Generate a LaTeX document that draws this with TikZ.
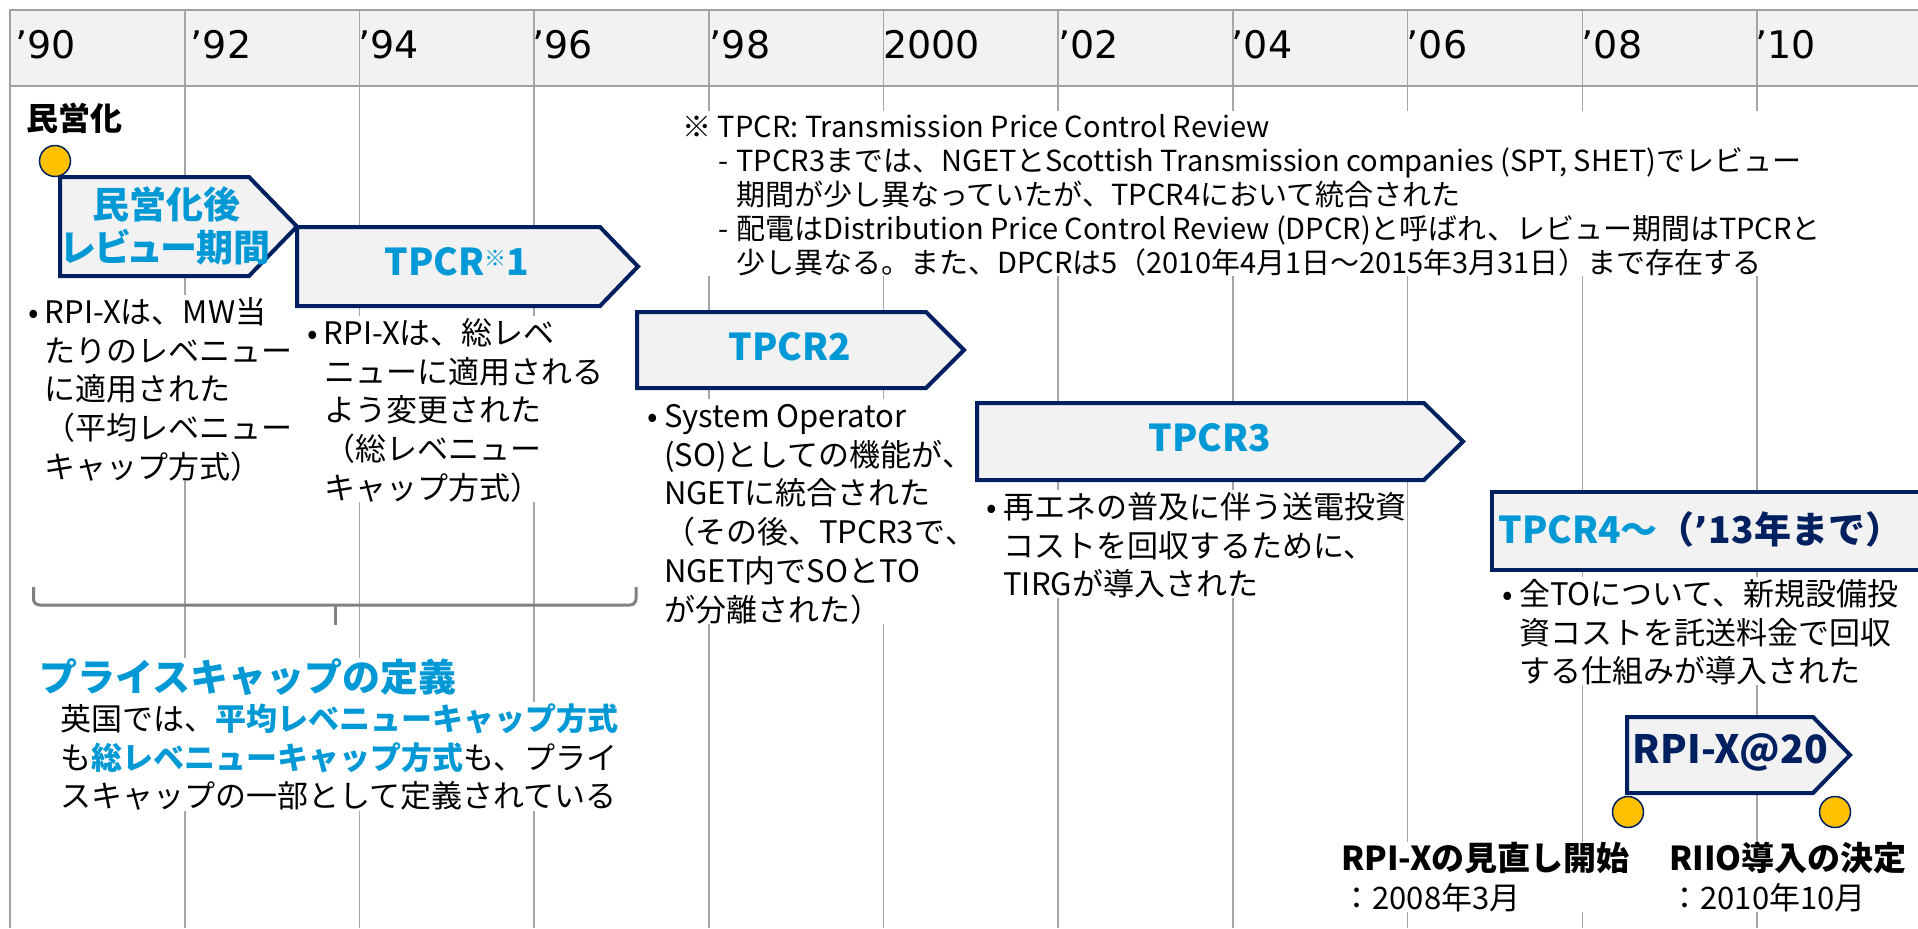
\documentclass[tikz,border=0pt]{standalone}
\usepackage{fontspec}
\setmainfont{Noto Sans CJK JP}
\newfontfamily\hdrfont{DejaVu Sans}
\definecolor{navy}{HTML}{002060}
\definecolor{tblue}{HTML}{0099D6}
\definecolor{boxgray}{HTML}{F2F2F2}
\definecolor{gridgray}{HTML}{A6A6A6}
\definecolor{hdrgray}{HTML}{A0A0A0}
\definecolor{bracegray}{HTML}{808080}
\definecolor{dotyellow}{HTML}{FFC000}
\newcommand\mystrut{\rule{0pt}{0.9em}}
\newcommand\bul{\llap{•\hspace{3pt}}}
\newcommand\dsh{\llap{-\hspace{4pt}}}
\tikzset{
  hdrtext/.style={anchor=base west, inner sep=0pt, font=\hdrfont\fontsize{19}{19}\selectfont},
  bodytext/.style={anchor=north west, inner sep=0pt, fill=white, align=left, font=\fontsize{15.5}{19.4}\selectfont},
  notetext/.style={anchor=north west, inner sep=0pt, fill=white, align=left, font=\fontsize{14.5}{17}\selectfont},
  chevron/.style={draw=navy, line width=2pt, fill=boxgray, line join=miter},
  boxtitle/.style={anchor=base, inner sep=0pt, text=tblue, font=\bfseries\fontsize{18.5}{21.5}\selectfont},
  gridline/.style={draw=gridgray, line width=0.8pt},
  hdrline/.style={draw=hdrgray, line width=1pt},
  evdot/.style={circle, draw=navy, line width=0.75pt, fill=dotyellow, minimum size=15.5pt, inner sep=0pt},
  bracket/.style={draw=bracegray, line width=1.5pt, rounded corners=3pt},
}
\begin{document}
\begin{tikzpicture}[x=0.5pt,y=-0.5pt]
\useasboundingbox (0,0) rectangle (1918,928);
% header band
\fill[boxgray] (10,10) rectangle (1930,86);
\foreach \k in {1,...,10}
  \draw[gridline] ({10+174.7*\k},10) -- ({10+174.7*\k},928);
\draw[hdrline] (1930,10) -- (10,10) -- (10,928);
\draw[hdrline] (10,86) -- (1930,86);
\foreach \lab/\xx [count=\i] in {’90/15.2, ’92/190.5, ’94/358, ’96/532, ’98/709.5, 2000/883, ’02/1058, ’04/1231.5, ’06/1406.5, ’08/1581.5, ’10/1755}
  \node[hdrtext] (h\i) at (\xx,58) {\lab};

% labels
\node[anchor=base west, inner sep=0pt, font=\bfseries\fontsize{16}{16}\selectfont] (mineika) at (26,130) {民営化};

% note block
\node[notetext] (note) at (682,111) {\mystrut※ TPCR: Transmission Price Control Review\\
\hspace*{27pt}\dsh TPCR3までは、NGETとScottish Transmission companies (SPT, SHET)でレビュー\\
\hspace*{27pt}期間が少し異なっていたが、TPCR4において統合された\\
\hspace*{27pt}\dsh 配電はDistribution Price Control Review (DPCR)と呼ばれ、レビュー期間はTPCRと\\
\hspace*{27pt}少し異なる。また、DPCRは5（2010年4月1日～2015年3月31日）まで存在する};

% bullet blocks
\node[bodytext] (blockA) at (44.6,295) {\mystrut\bul RPI-Xは、MW当\\たりのレベニュー\\に適用された\\（平均レベニュー\\キャップ方式）};
\node[bodytext] (blockB) at (323.6,316) {\mystrut\bul RPI-Xは、総レベ\\ニューに適用される\\よう変更された\\（総レベニュー\\キャップ方式）};
\node[bodytext] (blockC) at (663.8,399) {\mystrut\bul System Operator\\(SO)としての機能が\rlap{、}\\NGETに統合された\\（その後、TPCR3で\rlap{、}\\NGET内でSOとTO\\が分離された）};
\node[bodytext] (blockD) at (1003,490) {\mystrut\bul 再エネの普及に伴う送電投資\\コストを回収するために、\\TIRGが導入された};
\node[bodytext] (blockE) at (1518.7,577) {\mystrut\bul 全TOについて、新規設備投\\資コストを託送料金で回収\\する仕組みが導入された};

% bracket
\coordinate (brL) at (33.5,587);
\coordinate (brR) at (636,587);
\coordinate (brM) at (335,605);
\coordinate (brT) at (335,625);
\draw[bracket] (brL) -- (33.5,605) -- (636,605) -- (brR);
\draw[bracket] (brM) -- (brT);

% price cap definition
\node[anchor=base west, inner sep=0pt, fill=white, text=tblue, font=\bfseries\fontsize{19}{19}\selectfont] (pcTitle) at (39,691) {プライスキャップの定義\rule[-6pt]{0pt}{6pt}};
\node[bodytext] (pcBody) at (60,702) {\mystrut 英国では、\textcolor{tblue}{\bfseries 平均レベニューキャップ方式}\\も\textcolor{tblue}{\bfseries 総レベニューキャップ方式}も、プライ\\スキャップの一部として定義されている};

% chevrons
\draw[chevron] (60,177) -- (249,177) -- (297,226.5) -- (249,276) -- (60,276) -- cycle;
\draw[chevron] (297,227) -- (600,227) -- (638,266.5) -- (600,306) -- (297,306) -- cycle;
\draw[chevron] (637,312) -- (926,312) -- (964,350) -- (926,388) -- (637,388) -- cycle;
\draw[chevron] (977,403) -- (1424,403) -- (1463,441.5) -- (1424,480) -- (977,480) -- cycle;
\draw[chevron] (1491.5,492) rectangle (1935,570);
\draw[chevron] (1627,717) -- (1813,717) -- (1850,755) -- (1813,793) -- (1627,793) -- cycle;

\node[boxtitle, anchor=north, align=center] (t1) at (166,184.7) {\mystrut 民営化後\\{\addfontfeature{RawFeature=+palt}レビュー}期間};
\node[boxtitle] (t2) at (457,275) {TPCR\raisebox{4.5pt}{\fontsize{11}{11}\selectfont ※}1};
\node[boxtitle] (t3) at (790,360) {TPCR2};
\node[boxtitle] (t4) at (1210,451) {TPCR3};
\node[boxtitle, anchor=base west] (t5) at (1498,543) {TPCR4～\textcolor{navy}{（{\hdrfont\bfseries ’}13年まで）}};
\node[boxtitle, text=navy, font=\bfseries\fontsize{19.5}{21.5}\selectfont] (t6) at (1730.5,763) {RPI-X@20};

% events
\node[evdot] (d0) at (55,161) {};
\node[evdot] (d1) at (1628,812) {};
\node[evdot] (d2) at (1835,812) {};
\node[bodytext] (ev1) at (1341,842) {\mystrut{\bfseries\fontsize{16.5}{19.4}\selectfont RPI-Xの見直し開始}\\：2008年3月};
\node[bodytext] (ev2) at (1669,842) {\mystrut{\bfseries\fontsize{16.5}{19.4}\selectfont RIIO導入の決定}\\：2010年10月};
\end{tikzpicture}
\end{document}
